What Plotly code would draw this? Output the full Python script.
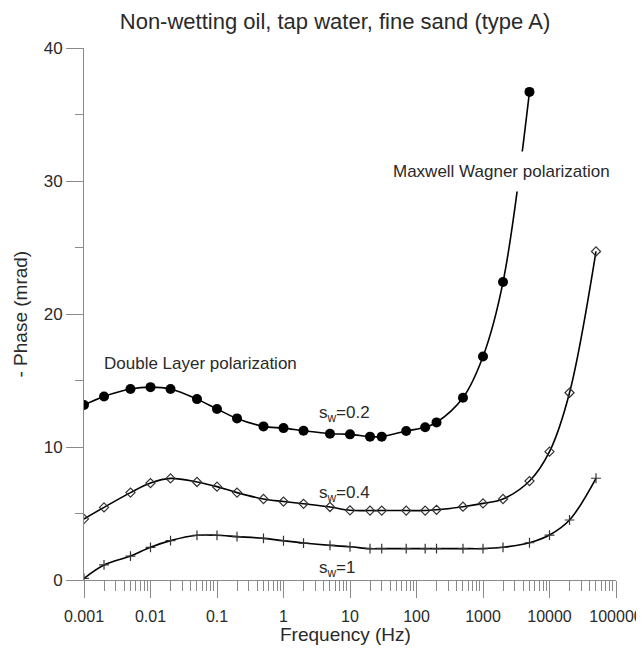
import plotly.graph_objects as go

# ---- data ----
freq = [0.001, 0.002, 0.005, 0.01, 0.02, 0.05, 0.1, 0.2, 0.5, 1, 2, 5, 10,
        20, 30, 70, 135, 200, 500, 1000, 2000, 5000, 10000, 20000, 50000]

freq_sw02 = freq[:22]
phase_sw02 = [13.16, 13.8, 14.36, 14.5, 14.36, 13.6, 12.86, 12.15, 11.55, 11.42,
              11.22, 11.0, 10.95, 10.78, 10.78, 11.2, 11.48, 11.85, 13.7, 16.8,
              22.4, 36.7]

freq_sw04 = freq
phase_sw04 = [4.59, 5.46, 6.57, 7.29, 7.64, 7.37, 7.02, 6.57, 6.09, 5.9, 5.73,
              5.49, 5.24, 5.22, 5.22, 5.22, 5.22, 5.28, 5.51, 5.76, 6.09, 7.44,
              9.65, 14.08, 24.7]

freq_sw1 = freq
phase_sw1 = [0.12, 1.13, 1.8, 2.46, 2.96, 3.36, 3.36, 3.26, 3.13, 2.95, 2.78,
             2.6, 2.5, 2.36, 2.36, 2.36, 2.36, 2.36, 2.36, 2.36, 2.46, 2.8,
             3.38, 4.51, 7.65]

x_tickvals = [0.001, 0.01, 0.1, 1, 10, 100, 1000, 10000, 100000]
x_ticktext = ["0.001", "0.01", "0.1", "1", "10", "100", "1000", "10000", "100000"]
x_minor = [k * v for v in x_tickvals[:-1] for k in range(2, 10)]
y_tickvals = [0, 10, 20, 30, 40]
y_ticktext = ["0", "10", "20", "30", "40"]

FONT = "Liberation Sans, Arial, sans-serif"
TXT = "#2a2a2a"
AX = "#8a8a8a"

# page body has an 8px margin: size the figure so it fills the window exactly
OFF = 8
W, H = 644 - OFF, 649 - OFF
ML, MT = 84 - OFF, 48 - OFF
MR = W - (616 - OFF)
MB = H - (580 - OFF)
PW, PH = W - ML - MR, H - MT - MB

def px_x(x):  # window pixel -> paper x
    return (x - OFF - ML) / PW

def px_y(y):  # window pixel -> paper y
    return (MT + PH - (y - OFF)) / PH

fig = go.Figure()
fig.add_trace(go.Scatter(
    x=freq_sw02, y=phase_sw02, mode="lines+markers",
    line=dict(color="black", width=1.6, shape="spline", smoothing=1),
    marker=dict(symbol="circle", size=10, color="black"),
    showlegend=False))
fig.add_trace(go.Scatter(
    x=freq_sw04, y=phase_sw04, mode="lines+markers",
    line=dict(color="black", width=1.6, shape="spline", smoothing=1),
    marker=dict(symbol="diamond-open", size=7, color="#333",
                line=dict(width=1.2, color="#333")),
    showlegend=False))
fig.add_trace(go.Scatter(
    x=freq_sw1, y=phase_sw1, mode="lines+markers",
    line=dict(color="black", width=1.6, shape="spline", smoothing=1),
    marker=dict(symbol="cross-thin", size=7, color="#333",
                line=dict(width=1.2, color="#333")),
    showlegend=False))

ann_font = dict(family=FONT, size=17, color=TXT)
fig.add_annotation(x=-2.729, y=16.3, xref="x", yref="y", text="Double Layer polarization",
                   showarrow=False, xanchor="left", yanchor="middle", font=ann_font)
fig.add_annotation(x=1.481, y=30.7, xref="x", yref="y", text="Maxwell Wagner polarization",
                   showarrow=False, xanchor="left", yanchor="middle", font=ann_font,
                   bgcolor="white", borderpad=10)
fig.add_annotation(x=0.504, y=12.5, xref="x", yref="y", text="s<sub>w</sub>=0.2",
                   showarrow=False, xanchor="left", yanchor="middle", font=ann_font)
fig.add_annotation(x=0.504, y=6.5, xref="x", yref="y", text="s<sub>w</sub>=0.4",
                   showarrow=False, xanchor="left", yanchor="middle", font=ann_font)
fig.add_annotation(x=0.504, y=0.85, xref="x", yref="y", text="s<sub>w</sub>=1",
                   showarrow=False, xanchor="left", yanchor="middle", font=ann_font)

# axis titles placed as annotations for exact position
fig.add_annotation(x=px_x(345), y=px_y(634), xref="paper", yref="paper",
                   text="Frequency (Hz)", showarrow=False, xanchor="center", yanchor="middle",
                   font=dict(family=FONT, size=19, color=TXT))
fig.add_annotation(x=px_x(19.5), y=px_y(314), xref="paper", yref="paper",
                   text="- Phase (mrad)", showarrow=False, xanchor="center", yanchor="middle",
                   textangle=-90, font=dict(family=FONT, size=19, color=TXT))

fig.update_layout(
    width=W, height=H, autosize=False,
    margin=dict(l=ML, r=MR, t=MT, b=MB, autoexpand=False),
    paper_bgcolor="white", plot_bgcolor="white",
    font=dict(family=FONT, color=TXT),
    title=dict(text="Non-wetting oil, tap water, fine sand (type A)",
               x=(335 - OFF) / W, xanchor="center", xref="container",
               y=1 - (21 - OFF) / H, yanchor="middle", yref="container",
               font=dict(family=FONT, size=22, color=TXT)),
    xaxis=dict(
        type="log", range=[-3, 5], automargin=False,
        tickmode="array", tickvals=x_tickvals, ticktext=x_ticktext,
        ticks="outside", ticklen=17, tickwidth=1, tickcolor=AX,
        showline=True, linecolor=AX, linewidth=1,
        showgrid=False, zeroline=False,
        minor=dict(tickvals=x_minor, ticks="outside", ticklen=10,
                   tickwidth=1, tickcolor=AX, showgrid=False),
        tickfont=dict(family=FONT, size=16, color=TXT),
        ticklabelstandoff=5,
    ),
    yaxis=dict(
        range=[0, 40], automargin=False,
        tickmode="array", tickvals=y_tickvals, ticktext=y_ticktext,
        ticks="outside", ticklen=17, tickwidth=1, tickcolor=AX,
        showline=True, linecolor=AX, linewidth=1,
        showgrid=False, zeroline=False,
        minor=dict(dtick=5, ticks="outside", ticklen=8, tickwidth=1,
                   tickcolor=AX, showgrid=False),
        tickfont=dict(family=FONT, size=17, color=TXT),
    ),
)

fig.write_html("out.html")
